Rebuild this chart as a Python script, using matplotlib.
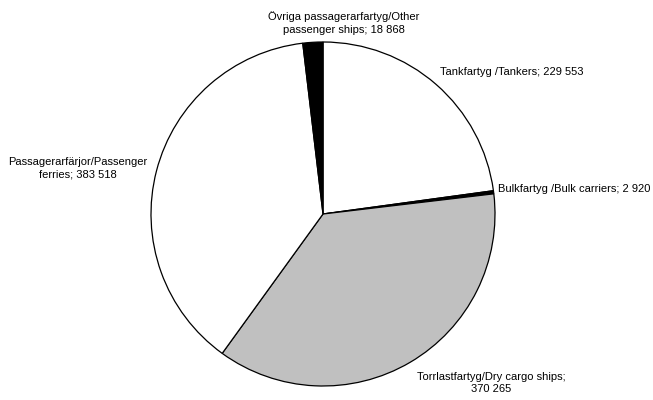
import matplotlib
matplotlib.use("Agg")
import matplotlib.pyplot as plt

categories = ["Tankfartyg /Tankers", "Bulkfartyg /Bulk carriers",
              "Torrlastfartyg/Dry cargo ships", "Passagerarfärjor/Passenger ferries",
              "Övriga passagerarfartyg/Other passenger ships"]
values = [229553, 2920, 370265, 383518, 18868]
colors = ["#FFFFFF", "#000000", "#C0C0C0", "#FFFFFF", "#000000"]
label_texts = ["Tankfartyg /Tankers; 229 553",
               "Bulkfartyg /Bulk carriers; 2 920",
               "Torrlastfartyg/Dry cargo ships;\n370 265",
               "Passagerarfärjor/Passenger\nferries; 383 518",
               "Övriga passagerarfartyg/Other\npassenger ships; 18 868"]

plt.rcParams['font.family'] = ['Liberation Sans', 'DejaVu Sans']

W, H = 653, 400
fig = plt.figure(figsize=(W / 100, H / 100), dpi=100)
ax = fig.add_axes([0, 0, 1, 1])
ax.pie(values, colors=colors, startangle=90, counterclock=False,
       center=(323, H - 214), radius=172, frame=True,
       wedgeprops=dict(edgecolor="black", linewidth=0.9))
ax.set_xlim(0, W)
ax.set_ylim(0, H)
ax.set_aspect("equal")
ax.axis("off")

fs = 8.0
# label placement (pixel coords from top)
placements = [
    (440, 72, "left"),
    (498, 189, "left"),
    (491, 383, "center"),
    (78, 168, "center"),
    (344, 23, "center"),
]
for txt, (x, y, ha) in zip(label_texts, placements):
    ax.text(x, H - y, txt, ha=ha, va="center", fontsize=fs,
            multialignment="center", linespacing=1.35)

fig.savefig("out.png", dpi=100, facecolor="white")
